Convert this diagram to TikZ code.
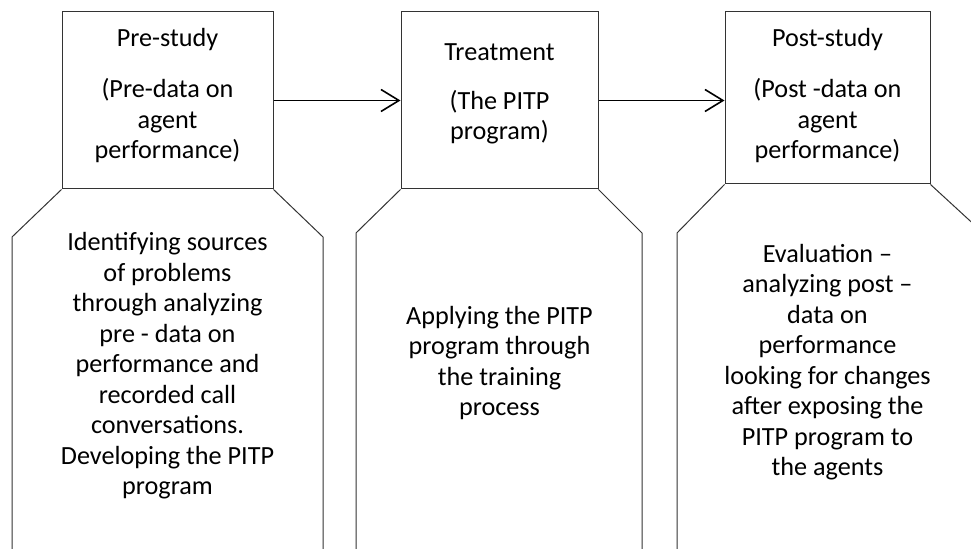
\documentclass[tikz,border=0pt]{standalone}
\usepackage{fontspec}
\setmainfont{Carlito}
\usetikzlibrary{arrows.meta}
\begin{document}
\begin{tikzpicture}[x=0.5pt,y=-0.5pt,
  box/.style={draw=black!80,line width=0.5pt,inner sep=0pt},
  txt/.style={align=center,inner sep=0pt,font=\fontsize{13.1}{15.25}\selectfont},
  outline/.style={draw=black!80,line width=0.5pt},
  arr/.style={line width=0.9pt,-{Straight Barb[length=9pt,width=11pt,line width=0.8pt]}}]
\useasboundingbox (0,0) rectangle (971,549);
% top boxes
\node[box,minimum width=105.5pt,minimum height=88.5pt] (b1) at (167.5,100.5) {};
\node[box,minimum width=98.5pt,minimum height=88.5pt] (b2) at (499.5,100.5) {};
\node[box,minimum width=102.5pt,minimum height=86pt] (b3) at (827.5,98) {};
% titles and subtitles
\node[txt] (t1) at (167.5,40) {Pre-study};
\node[txt] (s1) at (167.5,121) {(Pre-data on\\agent\\performance)};
\node[txt] (t2) at (499.5,52) {Treatment};
\node[txt] (s2) at (499.5,117) {(The PITP\\program)};
\node[txt] (t3) at (827.5,40) {Post-study};
\node[txt] (s3) at (827.5,121) {(Post -data on\\agent\\performance)};
% arrows
\draw[arr] (b1.east) -- (b2.west);
\draw[arr] (b2.east) -- (b2.east -| b3.west);
% lower shapes
\coordinate (l1a) at (12,237);
\coordinate (l1b) at (12,549);
\coordinate (r1a) at (323,237);
\coordinate (r1b) at (323,549);
\draw[outline] (l1b) -- (l1a) -- (b1.south west) (b1.south east) -- (r1a) -- (r1b);
\coordinate (l2a) at (356,233);
\coordinate (l2b) at (356,549);
\coordinate (r2a) at (642,233);
\coordinate (r2b) at (642,549);
\draw[outline] (l2b) -- (l2a) -- (b2.south west) (b2.south east) -- (r2a) -- (r2b);
\coordinate (l3a) at (677,233);
\coordinate (l3b) at (677,549);
\coordinate (r3a) at (980,230);
\draw[outline] (l3b) -- (l3a) -- (b3.south west) (b3.south east) -- (r3a);
% lower texts
\node[txt] (p1) at (167.5,366) {Identifying sources\\of problems\\through analyzing\\pre - data on\\performance and\\recorded call\\conversations.\\Developing the PITP\\program};
\node[txt] (p2) at (499.5,363) {Applying the PITP\\program through\\the training\\process};
\node[txt] (p3) at (827.5,362) {Evaluation --\\analyzing post --\\data on\\performance\\looking for changes\\after exposing the\\PITP program to\\the agents};
\end{tikzpicture}
\end{document}
